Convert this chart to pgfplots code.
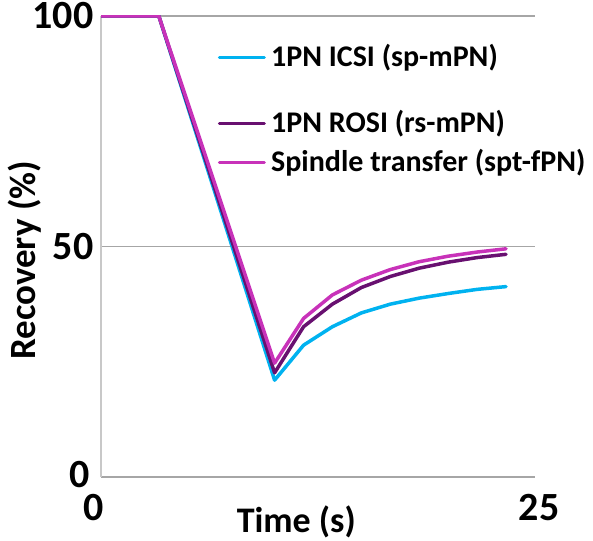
\documentclass[border=0pt]{standalone}
\usepackage{fontspec}
\setmainfont{Carlito}
\usepackage{pgfplots}
\pgfplotsset{compat=1.18}
\definecolor{cblue}{RGB}{0,178,240}
\definecolor{cpurp}{RGB}{104,16,112}
\definecolor{cmag}{RGB}{200,50,185}
\definecolor{gline}{RGB}{166,166,166}
\definecolor{lline}{RGB}{200,200,200}
\begin{document}
\begin{tikzpicture}[x=1pt,y=1pt]
\path[use as bounding box] (0,0) rectangle (593,540);
\begin{axis}[
  at={(101pt,63pt)}, anchor=origin,
  scale only axis, width=434pt, height=461pt,
  xmin=0, xmax=25, ymin=0, ymax=100,
  axis x line=bottom, axis y line=left,
  axis line style={-, line width=1.5pt},
  x axis line style={gline},
  y axis line style={lline},
  xtick={0,25}, ytick={0,50,100},
  xticklabels={{\hspace*{-14pt}0},{\raisebox{4pt}{25}\hspace*{-8pt}}},
  yticklabels={{\raisebox{5pt}{0}\hspace*{4pt}},50,100},
  ymajorgrids, grid style={gline, line width=1.5pt},
  major tick length=0pt,
  font=\fontsize{40}{46}\selectfont\bfseries,
  /pgf/number format/assume math mode=true,
  xticklabel style={yshift=-14pt},
  yticklabel style={xshift=-4pt},
  xlabel={Time (s)}, ylabel={Recovery (\%)},
  xlabel style={at={(axis description cs:0.45,0)}, anchor=north, yshift=-25pt, font=\fontsize{36}{40}\selectfont\bfseries},
  ylabel style={at={(axis description cs:0,0.47)}, anchor=south, yshift=56pt, font=\fontsize{37}{42}\selectfont\bfseries},
  legend style={draw=none, fill=none, at={(axis description cs:0.269,0.944)}, anchor=north west,
    font=\fontsize{30}{34}\selectfont\bfseries, cells={anchor=base west}, row sep=11pt, inner sep=0pt},
  legend image code/.code={\draw[#1, line width=3pt] (0pt,9pt) -- (45pt,9pt); \path (48pt,9pt);},
  every axis plot/.append style={line width=3.5pt, line join=round, line cap=round},
]
\addplot[cblue] coordinates {(0,100) (3.33,100) (10,21.0) (11.67,28.6) (13.33,32.6) (15,35.6) (16.67,37.5) (18.33,38.8) (20,39.8) (21.67,40.7) (23.33,41.3)};
\addlegendentry{1PN ICSI (sp-mPN)}
\addplot[cpurp] coordinates {(0,100) (3.33,100) (10,22.6) (11.67,32.6) (13.33,37.5) (15,41.1) (16.67,43.5) (18.33,45.3) (20,46.6) (21.67,47.6) (23.33,48.3)};
\addlegendentry{\rule{0pt}{50pt}1PN ROSI (rs-mPN)}
\addplot[cmag] coordinates {(0,100) (3.33,100) (10,24.7) (11.67,34.4) (13.33,39.5) (15,42.7) (16.67,45.0) (18.33,46.7) (20,47.9) (21.67,48.8) (23.33,49.5)};
\addlegendentry{Spindle transfer (spt-fPN)}
\end{axis}
\end{tikzpicture}
\end{document}
